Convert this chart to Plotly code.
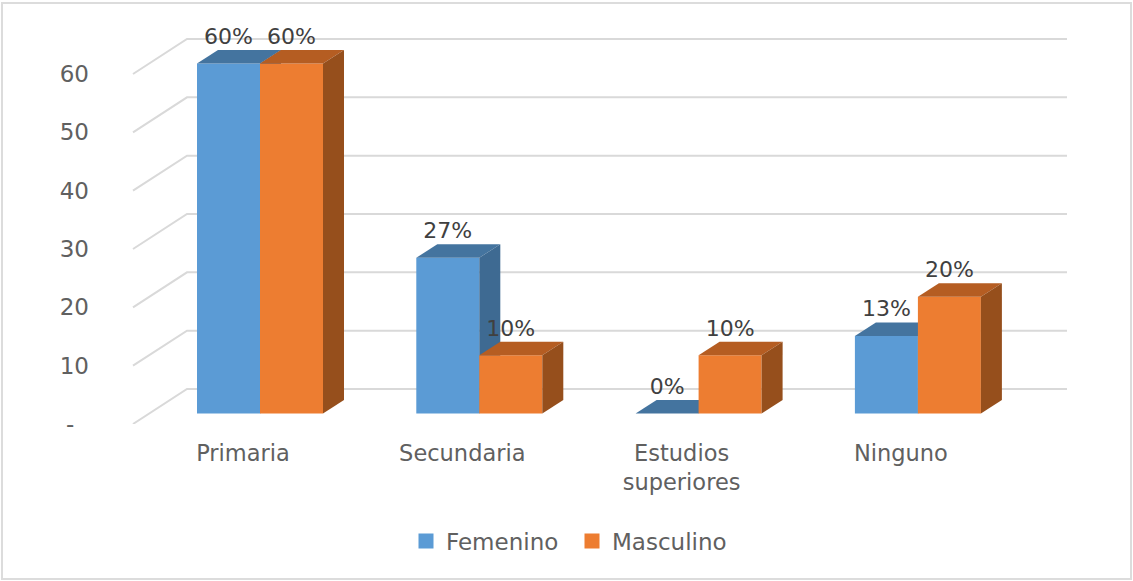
import plotly.graph_objects as go

categories = ["Primaria", "Secundaria", "Estudios<br>superiores", "Ninguno"]
femenino = [60, 26.7, 0, 13.3]
masculino = [60, 10, 10, 20]
femenino_labels = ["60%", "27%", "0%", "13%"]
masculino_labels = ["60%", "10%", "10%", "20%"]
y_ticks = [0, 10, 20, 30, 40, 50, 60]
y_tick_labels = ["-\u00a0\u00a0", "10", "20", "30", "40", "50", "60"]

W, H = 1133, 581
L, R, T, B = 90, 1067, 20, 424
PX_X = 219.3      # pixels per category
PX_Y = 5.833      # pixels per value unit
X0 = 243          # pixel of first category
xr = [(L - X0) / PX_X, (R - X0) / PX_X]
yr = [0, (B - T) / PX_Y]

GRID = "#d9d9d9"
TXT = "#606060"
FONT = "DejaVu Sans"

base = 10.5 / PX_Y
bw = 63 / PX_X
dx = 21 / PX_X
dy = 13.5 / PX_Y


def series(values, labels, name, cx, col_front, col_top, col_side, xa, ya):
    out = []
    xs = [i + cx for i in range(len(values))]
    out.append(go.Bar(x=xs, y=values, base=[base] * len(values), width=bw, name=name,
                      marker=dict(color=col_front, line=dict(width=0)), showlegend=False,
                      xaxis=xa, yaxis=ya, hoverinfo="skip"))
    for x, v in zip(xs, values):
        top = base + v
        lft, rgt = x - bw / 2, x + bw / 2
        out.append(go.Scatter(x=[lft, lft + dx, rgt + dx, rgt, lft], y=[top, top + dy, top + dy, top, top],
                              mode="lines", fill="toself", fillcolor=col_top, line=dict(width=0),
                              showlegend=False, hoverinfo="skip", xaxis=xa, yaxis=ya))
        out.append(go.Scatter(x=[rgt, rgt + dx, rgt + dx, rgt, rgt], y=[top, top + dy, base + dy, base, top],
                              mode="lines", fill="toself", fillcolor=col_side, line=dict(width=0),
                              showlegend=False, hoverinfo="skip", xaxis=xa, yaxis=ya))
    out.append(go.Scatter(x=xs, y=[base + v + 25 / PX_Y for v in values], text=labels, mode="text",
                          textposition="middle center", textfont=dict(family=FONT, size=22, color="#404040"),
                          showlegend=False, hoverinfo="skip", xaxis=xa, yaxis=ya, cliponaxis=False))
    return out


fig = go.Figure()

# walls: gridlines run from the front of the left side wall to the back, then across the back wall
gx = [(133 - X0) / PX_X, (187 - X0) / PX_X, (R - X0) / PX_X]
wall = 35 / PX_Y
for t in y_ticks:
    fig.add_trace(go.Scatter(x=gx, y=[t, t + wall, t + wall], mode="lines",
                             line=dict(color=GRID, width=2), showlegend=False, hoverinfo="skip"))
# legend entries
for name, col in (("Femenino", "#5B9BD5"), ("Masculino", "#ED7D31")):
    fig.add_trace(go.Scatter(x=[None], y=[None], mode="markers", name=name,
                             marker=dict(symbol="square", size=15, color=col, line=dict(width=0)),
                             hoverinfo="skip"))
for tr in series(femenino, femenino_labels, "Femenino", -14.5 / PX_X, "#5B9BD5", "#44749F", "#3E6A92", "x2", "y2"):
    fig.add_trace(tr)
for tr in series(masculino, masculino_labels, "Masculino", 48.5 / PX_X, "#ED7D31", "#B55D22", "#964F1C", "x3", "y3"):
    fig.add_trace(tr)

hidden = dict(visible=False, fixedrange=True)
fig.update_layout(
    width=W, height=H, autosize=False,
    margin=dict(l=L, r=W - R, t=T, b=H - B, pad=0),
    paper_bgcolor="white", plot_bgcolor="rgba(0,0,0,0)",
    barmode="overlay",
    font=dict(family=FONT, color=TXT, size=22),
    showlegend=True,
    legend=dict(orientation="h", x=(406 - L) / (R - L), xanchor="left",
                y=(B - 541) / (B - T), yanchor="middle",
                font=dict(family=FONT, size=23, color=TXT), bgcolor="rgba(0,0,0,0)",
                entrywidth=121, entrywidthmode="pixels",
                itemclick=False, itemdoubleclick=False),
    xaxis=dict(range=xr, tickmode="array", tickvals=list(range(len(categories))), ticktext=categories,
               showgrid=False, zeroline=False, showline=False, ticks="outside", ticklen=9,
               tickcolor="rgba(0,0,0,0)", tickfont=dict(family=FONT, size=22.5, color=TXT), fixedrange=True),
    yaxis=dict(range=yr, tickmode="array", tickvals=y_ticks, ticktext=y_tick_labels,
               showgrid=False, zeroline=False, showline=False, ticks="",
               tickfont=dict(family=FONT, size=23, color=TXT), fixedrange=True),
    xaxis2=dict(range=xr, overlaying="x", **hidden),
    yaxis2=dict(range=yr, overlaying="y", **hidden),
    xaxis3=dict(range=xr, overlaying="x", **hidden),
    yaxis3=dict(range=yr, overlaying="y", **hidden),
    shapes=[dict(type="rect", xref="paper", yref="paper",
                 x0=(2 - L) / (R - L), x1=(1131 - L) / (R - L),
                 y0=(B - 579) / (B - T), y1=(B - 3) / (B - T),
                 line=dict(color="#dcdcdc", width=2), fillcolor="rgba(0,0,0,0)", layer="below")],
)

fig.write_html("out.html", post_script="document.body.style.margin='0';",
               config={"displayModeBar": False})
